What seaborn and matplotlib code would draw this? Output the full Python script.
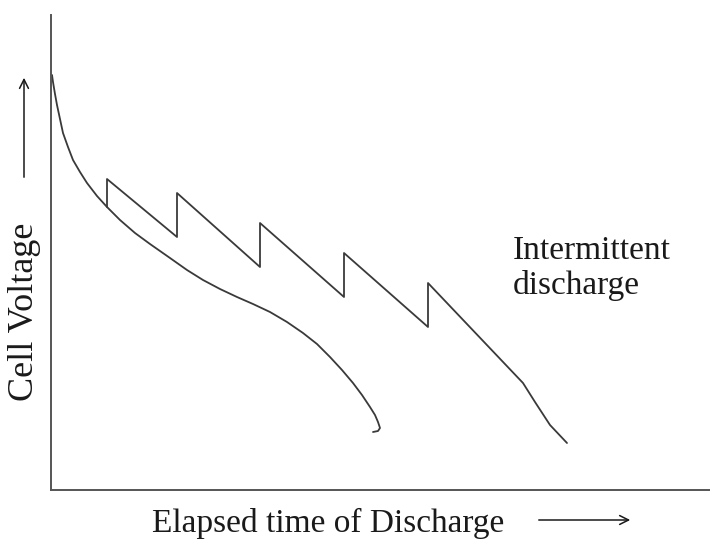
import matplotlib
matplotlib.use("Agg")
import matplotlib.pyplot as plt
import pandas as pd
import seaborn as sns

# ---------------------------------------------------------------------------
# Dati (unita' arbitrarie)
# ---------------------------------------------------------------------------

tempo_continuo = [1, 2, 4, 6, 9, 12, 17, 22, 29, 36, 46, 56, 69, 84, 99, 119,
                  136, 152, 169, 186, 202, 219, 236, 252, 266, 279, 291, 302,
                  311, 319, 324, 327, 329, 327, 322]
tensione_continua = [415, 408, 396, 385, 371, 357, 343, 330, 318, 307, 294, 283,
                     270, 257, 246, 232, 220, 210, 201, 193, 186, 178, 168, 157,
                     146, 133, 120, 107, 95, 83, 75, 68, 62, 59, 58]

tempo_intermittente = [56, 56, 126, 126, 209, 209, 293, 293, 377, 377, 472, 484,
                       499, 516]
tensione_intermittente = [283, 311, 253, 297, 223, 267, 193, 237, 163, 207, 107,
                          88, 65, 47]

# ---------------------------------------------------------------------------
# Stile
# ---------------------------------------------------------------------------

sns.set_style("white")
plt.rcParams["font.family"] = ["Liberation Serif", "DejaVu Serif"]

COLORE = "#3a3a3a"
TESTO = "#1a1a1a"

fig = plt.figure(figsize=(7.10, 5.41), dpi=100)
ax = fig.add_axes([51 / 710, 51 / 541, 659 / 710, 475 / 541])

df_cont = pd.DataFrame({"t": tempo_continuo, "v": tensione_continua})
df_int = pd.DataFrame({"t": tempo_intermittente, "v": tensione_intermittente})

sns.lineplot(data=df_cont, x="t", y="v", sort=False, estimator=None,
             color=COLORE, linewidth=1.3, ax=ax)
sns.lineplot(data=df_int, x="t", y="v", sort=False, estimator=None,
             color=COLORE, linewidth=1.3, ax=ax)

ax.set_xlim(0, 659)
ax.set_ylim(0, 475)
ax.set_xticks([])
ax.set_yticks([])
ax.set_xlabel("")
ax.set_ylabel("")
for lato in ["top", "right"]:
    ax.spines[lato].set_visible(False)
for lato in ["left", "bottom"]:
    ax.spines[lato].set_color("#555555")
    ax.spines[lato].set_linewidth(1.4)

# etichetta della curva intermittente
ax.text(462, 490 - 259, "Intermittent", fontsize=24, color=TESTO,
        ha="left", va="baseline")
ax.text(462, 490 - 294, "discharge", fontsize=24, color=TESTO,
        ha="left", va="baseline")

# etichette degli assi con frecce
fig.text(152 / 710, 1 - 532 / 541, "Elapsed time of Discharge", fontsize=24,
         color=TESTO, ha="left", va="baseline")
fig.text(25 / 710, 1 - 312 / 541, "Cell Voltage", fontsize=26, rotation=90,
         color=TESTO, ha="center", va="center")

freccia = dict(arrowstyle="->", color=TESTO, lw=1.1, mutation_scale=16)
ax.annotate("", xy=(633 / 710, 1 - 520 / 541), xytext=(536 / 710, 1 - 520 / 541),
            xycoords="figure fraction", textcoords="figure fraction",
            arrowprops=freccia, annotation_clip=False)
ax.annotate("", xy=(24 / 710, 1 - 75 / 541), xytext=(24 / 710, 1 - 180 / 541),
            xycoords="figure fraction", textcoords="figure fraction",
            arrowprops=freccia, annotation_clip=False)

fig.savefig("out.png", dpi=100)
